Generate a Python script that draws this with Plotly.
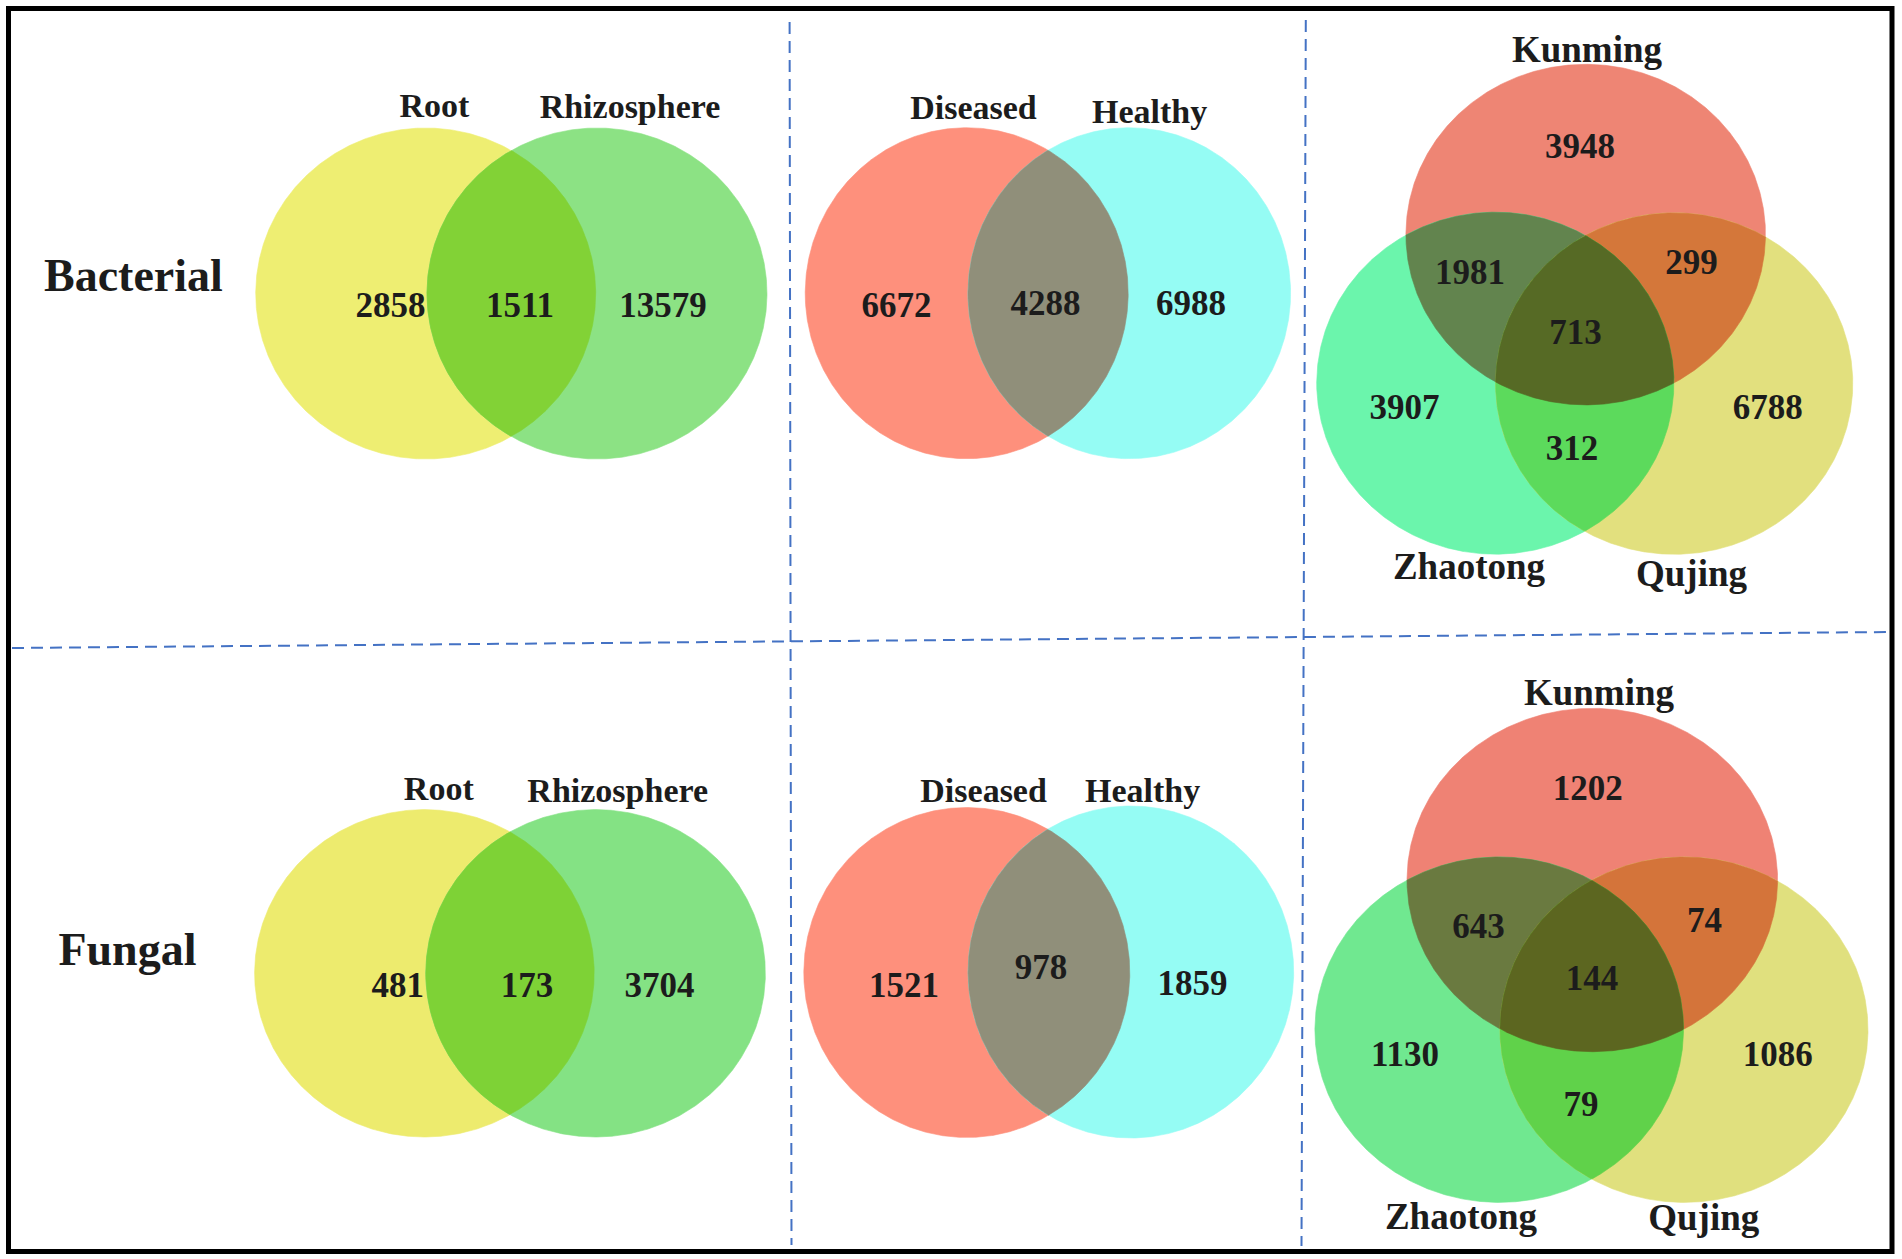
import numpy as np
import plotly.graph_objects as go

# ---------------- data ----------------
row_labels = ["Bacterial", "Fungal"]

two_set_a_names = ["Root", "Rhizosphere"]
two_set_b_names = ["Diseased", "Healthy"]
three_set_names = ["Kunming", "Zhaotong", "Qujing"]

# [only A, A∩B, only B]
bact_root_rhizo = [2858, 1511, 13579]
bact_dis_heal = [6672, 4288, 6988]
fung_root_rhizo = [481, 173, 3704]
fung_dis_heal = [1521, 978, 1859]

# order: K only, K∩Z, K∩Q, K∩Z∩Q, Z only, Q only, Z∩Q
three_region_keys = ["K", "KZ", "KQ", "KZQ", "Z", "Q", "ZQ"]
bact_sites = [3948, 1981, 299, 713, 3907, 6788, 312]
fung_sites = [1202, 643, 74, 144, 1130, 1086, 79]

# ---------------- layout / geometry (pixels) ----------------
W, H = 1902, 1259
TXT = "#1c1c1c"
FONT = "Liberation Serif"

panels = [
    # bacterial root / rhizosphere
    dict(kind=2, values=bact_root_rhizo, names=two_set_a_names,
         ells=[(425.7, 293.5, 170, 165.5), (597, 293.5, 170, 165.5)],
         colors=["#EEEE72", "#8CE284"], over="#82D236",
         name_pos=[(434.5, 105), (630, 106)], name_size=34,
         num_pos=[(390.5, 305), (520, 305), (663, 305)]),
    dict(kind=2, values=bact_dis_heal, names=two_set_b_names,
         ells=[(966.7, 293.2, 161.5, 165.5), (1129.3, 293.2, 161.3, 165.5)],
         colors=["#FE907C", "#95FCF4"], over="#908F7A",
         name_pos=[(973.5, 107), (1149.6, 111)], name_size=34,
         num_pos=[(896.6, 305), (1045.6, 303), (1191, 303)]),
    dict(kind=3, values=bact_sites, names=three_set_names,
         ells=[(1585.7, 234.6, 179.8, 170.3), (1495.3, 383.2, 178.6, 171), (1674.2, 383.6, 178.6, 170.7)],
         colors=["#EE8574", "#6BF5AC", "#E2E07E"],
         pair=dict(KZ="#62844E", KQ="#D4773A", ZQ="#5CDA5C"), triple="#566A25",
         name_pos=[(1587, 49), (1469, 566), (1691.5, 573.5)], name_size=37,
         num_pos=[(1580, 145.6), (1470, 272), (1691.5, 262), (1575.6, 332),
                  (1404.6, 406.6), (1767.8, 406.6), (1572, 448)]),
    dict(kind=2, values=fung_root_rhizo, names=two_set_a_names,
         ells=[(424.4, 973.3, 169.8, 163.7), (595.6, 973.3, 169.8, 163.7)],
         colors=["#EDEB6E", "#84E284"], over="#7ED236",
         name_pos=[(438.8, 788), (617.7, 790)], name_size=34,
         num_pos=[(397.8, 985), (527, 985), (659.5, 985)]),
    dict(kind=2, values=fung_dis_heal, names=two_set_b_names,
         ells=[(966.8, 972.5, 163, 165), (1130.9, 972, 162.8, 166)],
         colors=["#FE907C", "#95FCF4"], over="#908F7A",
         name_pos=[(983.6, 790), (1142.6, 790)], name_size=34,
         num_pos=[(904, 985), (1041, 967), (1192.6, 983)]),
    dict(kind=3, values=fung_sites, names=three_set_names,
         ells=[(1592.3, 880, 185.3, 171.7), (1499.2, 1029.7, 184.3, 172.7), (1684, 1029.7, 184, 172.7)],
         colors=["#EF8274", "#70E890", "#E0E07E"],
         pair=dict(KZ="#6A7A40", KQ="#D4743A", ZQ="#60D24A"), triple="#5C6620",
         name_pos=[(1599, 692), (1461, 1216), (1703.8, 1217)], name_size=37,
         num_pos=[(1587.8, 787.6), (1478.6, 926), (1704.5, 919.5), (1592, 978),
                  (1405, 1053.7), (1777.8, 1053.7), (1581, 1103.5)]),
]
row_label_pos = [(133.4, 275), (127.4, 949)]


def boundary(e, n=900):
    cx, cy, rx, ry = e
    t = np.linspace(0, 2 * np.pi, n, endpoint=False)
    return cx + rx * np.cos(t), cy + ry * np.sin(t)


def inside(e, x, y):
    cx, cy, rx, ry = e
    return ((x - cx) / rx) ** 2 + ((y - cy) / ry) ** 2 <= 1 + 1e-9


def region(ells):
    """Polygon of the intersection of convex ellipses."""
    xs, ys = [], []
    for i, e in enumerate(ells):
        bx, by = boundary(e)
        m = np.ones_like(bx, dtype=bool)
        for j, o in enumerate(ells):
            if j != i:
                m &= inside(o, bx, by)
        xs.append(bx[m]); ys.append(by[m])
    x = np.concatenate(xs); y = np.concatenate(ys)
    mx, my = x.mean(), y.mean()
    order = np.argsort(np.arctan2(y - my, x - mx))
    x, y = x[order], y[order]
    return np.append(x, x[0]), np.append(y, y[0])


fig = go.Figure()


def add_fill(x, y, color):
    fig.add_trace(go.Scatter(x=x, y=y, mode="lines", fill="toself", fillcolor=color,
                             line=dict(width=0.6, color=color), hoverinfo="skip", showlegend=False))


def add_text(pos, texts, size):
    # small downward nudge so the cap-height centre sits on the target point
    off = 0.1 * size
    fig.add_trace(go.Scatter(x=[p[0] for p in pos], y=[p[1] + off for p in pos], mode="text",
                             text=[str(t) for t in texts], textposition="middle center",
                             textfont=dict(family=FONT, size=size, color=TXT, weight="bold"),
                             hoverinfo="skip", showlegend=False))


for p in panels:
    ells = p["ells"]
    for e, c in zip(ells, p["colors"]):
        add_fill(*region([e]), c)
    if p["kind"] == 2:
        add_fill(*region(ells), p["over"])
    else:
        k, z, q = ells
        add_fill(*region([k, z]), p["pair"]["KZ"])
        add_fill(*region([k, q]), p["pair"]["KQ"])
        add_fill(*region([z, q]), p["pair"]["ZQ"])
        add_fill(*region([k, z, q]), p["triple"])
    add_text(p["name_pos"], p["names"], p["name_size"])
    add_text(p["num_pos"], p["values"], 35)

add_text(row_label_pos, row_labels, 46)

# dashed separators
DASH = dict(color="#4472C4", width=2, dash="12px,7px")
for (x0, y0, x1, y1) in [(12, 648, 1890, 632), (789.6, 22, 791.5, 1245), (1305.8, 20, 1301.5, 1246)]:
    fig.add_trace(go.Scatter(x=[x0, x1], y=[y0, y1], mode="lines", line=DASH,
                             hoverinfo="skip", showlegend=False))

fig.add_shape(type="rect", xref="x", yref="y", x0=8.5, y0=8.5, x1=1892, y1=1251.5,
              line=dict(color="black", width=5), fillcolor="rgba(0,0,0,0)", layer="above")

fig.update_layout(width=W, height=H, margin=dict(l=0, r=0, t=0, b=0),
                  paper_bgcolor="white", plot_bgcolor="white", showlegend=False,
                  xaxis=dict(range=[0, W], visible=False, fixedrange=True),
                  yaxis=dict(range=[H, 0], visible=False, fixedrange=True))

fig.write_html("out.html", config={"displayModeBar": False},
               post_script="document.body.style.margin='0';document.body.style.overflow='hidden';")
